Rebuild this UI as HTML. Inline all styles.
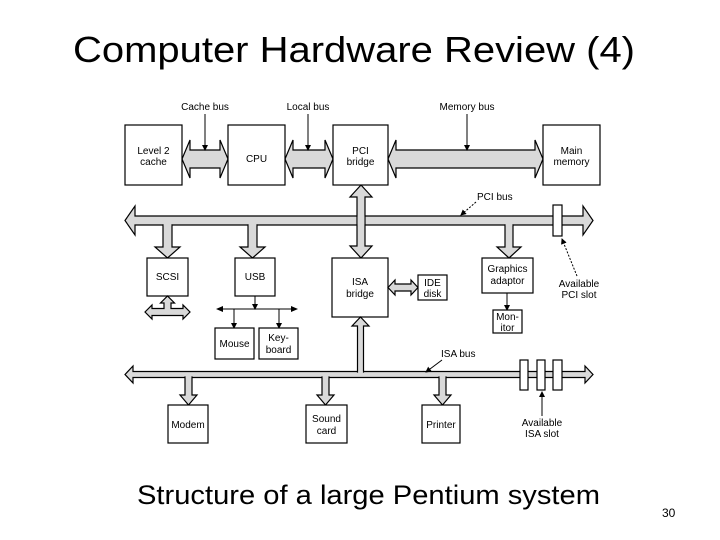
<!DOCTYPE html>
<html><head><meta charset="utf-8"><style>
html,body{margin:0;padding:0;background:#fff;width:720px;height:540px;overflow:hidden}
svg{display:block}
text{font-family:"Liberation Sans",sans-serif;fill:#000}
.b{fill:#fff;stroke:#000;stroke-width:1.2}
.a{fill:#d9d9d9;stroke:#000;stroke-width:1.2;stroke-linejoin:miter}
.l{font-size:10px;text-anchor:middle}
.t{stroke:#000;stroke-width:1;fill:none}
</style></head><body>
<svg width="720" height="540" viewBox="0 0 720 540">
<defs><marker id="m" markerWidth="6" markerHeight="6" refX="5" refY="3" orient="auto" markerUnits="userSpaceOnUse"><path d="M0,0 L6,3 L0,6 Z" fill="#000"/></marker></defs>
<text x="73" y="62" font-size="36" textLength="562" lengthAdjust="spacingAndGlyphs" style="font-family:'Liberation Sans',sans-serif">Computer Hardware Review (4)</text>

<!-- top fat arrows -->
<path class="a" d="M182 159 L190 140 L190 150 L220 150 L220 140 L228 159 L220 178 L220 168 L190 168 L190 178 Z"/>
<path class="a" d="M285 159 L293 140 L293 150 L325 150 L325 140 L333 159 L325 178 L325 168 L293 168 L293 178 Z"/>
<path class="a" d="M388 159 L396 140 L396 150 L535 150 L535 140 L543 159 L535 178 L535 168 L396 168 L396 178 Z"/>

<!-- PCI bus -->
<path class="a" d="M125 220.5 L135 206 L135 216 L583 216 L583 206 L593 220.5 L583 235 L583 225 L135 225 L135 235 Z"/>
<!-- PCI bridge <-> ISA bridge vertical -->
<path class="a" d="M361 185 L372 197 L365 197 L365 246 L372 246 L361 258 L350 246 L357 246 L357 197 L350 197 Z"/>
<rect x="357.6" y="216.6" width="6.8" height="7.8" fill="#d9d9d9"/>
<!-- drops -->
<path class="a" d="M163 225 L172 225 L172 247 L180 247 L167.5 258 L155 247 L163 247 Z"/>
<path class="a" d="M248 225 L257 225 L257 247 L265 247 L252.5 258 L240 247 L248 247 Z"/>
<path class="a" d="M505 225 L513 225 L513 247 L521 247 L509 258 L497 247 L505 247 Z"/>
<rect x="163.6" y="224" width="7.8" height="2" fill="#d9d9d9"/>
<rect x="248.6" y="224" width="7.8" height="2" fill="#d9d9d9"/>
<rect x="505.6" y="224" width="6.8" height="2" fill="#d9d9d9"/>
<!-- PCI slot -->
<rect class="b" x="553" y="205" width="9" height="31"/>

<!-- boxes top -->
<rect class="b" x="125" y="125" width="57" height="60"/>
<rect class="b" x="228" y="125" width="57" height="60"/>
<rect class="b" x="333" y="125" width="55" height="60"/>
<rect class="b" x="543" y="125" width="57" height="60"/>
<text class="l" x="153.5" y="154">Level 2</text><text class="l" x="153.5" y="165">cache</text>
<text class="l" x="256.5" y="162">CPU</text>
<text class="l" x="360.5" y="154">PCI</text><text class="l" x="360.5" y="165">bridge</text>
<text class="l" x="571.5" y="154">Main</text><text class="l" x="571.5" y="165">memory</text>

<!-- bus labels -->
<text class="l" x="205" y="110">Cache bus</text>
<line class="t" x1="205" y1="114" x2="205" y2="150" marker-end="url(#m)"/>
<text class="l" x="308" y="110">Local bus</text>
<line class="t" x1="308" y1="114" x2="308" y2="150" marker-end="url(#m)"/>
<text class="l" x="467" y="110">Memory bus</text>
<line class="t" x1="467" y1="114" x2="467" y2="150" marker-end="url(#m)"/>
<text x="477" y="200" font-size="10">PCI bus</text>
<line class="t" x1="476" y1="202" x2="461" y2="215" stroke-dasharray="2,1.5" marker-end="url(#m)"/>

<!-- middle boxes -->
<rect class="b" x="147" y="258" width="41" height="38"/>
<text class="l" x="167.5" y="280">SCSI</text>
<rect class="b" x="235" y="258" width="40" height="38"/>
<text class="l" x="255" y="280">USB</text>
<rect class="b" x="332" y="258" width="56" height="59"/>
<text class="l" x="360" y="285">ISA</text><text class="l" x="360" y="297">bridge</text>
<path class="a" d="M388 287.5 L395 280 L395 284 L411 284 L411 280 L418 287.5 L411 295 L411 291 L395 291 L395 295 Z"/>
<rect class="b" x="418" y="275" width="29" height="25"/>
<text class="l" x="432.5" y="286" font-size="11">IDE</text><text class="l" x="432.5" y="297">disk</text>
<rect class="b" x="482" y="258" width="51" height="35"/>
<text class="l" x="507.5" y="272">Graphics</text><text class="l" x="507.5" y="284">adaptor</text>
<line class="t" x1="507" y1="293" x2="507" y2="310" marker-end="url(#m)"/>
<rect class="b" x="493" y="310" width="29" height="23"/>
<text class="l" x="507.5" y="320">Mon-</text><text class="l" x="507.5" y="331">itor</text>
<text class="l" x="579" y="287">Available</text><text class="l" x="579" y="298">PCI slot</text>
<line class="t" x1="577" y1="276" x2="562" y2="239" stroke-dasharray="2,1.5" marker-end="url(#m)"/>

<!-- SCSI arrows -->
<path class="a" d="M145 312 L152 305 L152 308.5 L164 308.5 L164 303 L160.5 303 L167.5 296 L174.5 303 L171 303 L171 308.5 L183 308.5 L183 305 L190 312 L183 319 L183 315.5 L152 315.5 L152 319 Z"/>

<!-- USB lines -->
<line class="t" x1="255" y1="296" x2="255" y2="309" marker-end="url(#m)"/>
<line class="t" x1="222" y1="309" x2="292" y2="309"/>
<path d="M216 309 L223 306 L223 312 Z M298 309 L291 306 L291 312 Z"/>
<line class="t" x1="234" y1="309" x2="234" y2="328" marker-end="url(#m)"/>
<line class="t" x1="279" y1="309" x2="279" y2="328" marker-end="url(#m)"/>
<rect class="b" x="215" y="328" width="39" height="31"/>
<text class="l" x="234.5" y="347">Mouse</text>
<rect class="b" x="259" y="328" width="39" height="31"/>
<text class="l" x="278.5" y="341">Key-</text><text class="l" x="278.5" y="353">board</text>

<!-- ISA bus -->
<path class="a" d="M125 374.5 L133 366 L133 371.5 L585 371.5 L585 366 L593 374.5 L585 383 L585 377.5 L133 377.5 L133 383 Z"/>
<path class="a" d="M360.5 317 L369 326 L363.5 326 L363.5 372 L357.5 372 L357.5 326 L352 326 Z"/>
<rect x="358.1" y="371" width="4.8" height="2" fill="#d9d9d9"/>
<path class="a" d="M185 377 L192 377 L192 395 L197 395 L188.5 405 L180 395 L185 395 Z"/>
<path class="a" d="M322 377 L329 377 L329 395 L334 395 L325.5 405 L317 395 L322 395 Z"/>
<path class="a" d="M439 377 L446 377 L446 395 L451 395 L442.5 405 L434 395 L439 395 Z"/>
<rect x="185.6" y="376" width="5.8" height="2" fill="#d9d9d9"/>
<rect x="322.6" y="376" width="5.8" height="2" fill="#d9d9d9"/>
<rect x="439.6" y="376" width="5.8" height="2" fill="#d9d9d9"/>
<rect class="b" x="520" y="360" width="8" height="30"/>
<rect class="b" x="537" y="360" width="8" height="30"/>
<rect class="b" x="553" y="360" width="9" height="30"/>
<text x="441" y="357" font-size="10">ISA bus</text>
<line class="t" x1="442" y1="360" x2="426" y2="372" marker-end="url(#m)"/>
<line class="t" x1="542" y1="416" x2="542" y2="392" marker-end="url(#m)"/>
<text class="l" x="542" y="426">Available</text><text class="l" x="542" y="437">ISA slot</text>

<!-- bottom boxes -->
<rect class="b" x="168" y="405" width="40" height="38"/>
<text class="l" x="188" y="428">Modem</text>
<rect class="b" x="306" y="405" width="41" height="38"/>
<text class="l" x="326.5" y="422">Sound</text><text class="l" x="326.5" y="434">card</text>
<rect class="b" x="422" y="405" width="38" height="38"/>
<text class="l" x="441" y="428">Printer</text>

<text x="137" y="504" font-size="27" textLength="463" lengthAdjust="spacingAndGlyphs">Structure of a large Pentium system</text>
<text x="662" y="517" font-size="12">30</text>
</svg>
</body></html>
